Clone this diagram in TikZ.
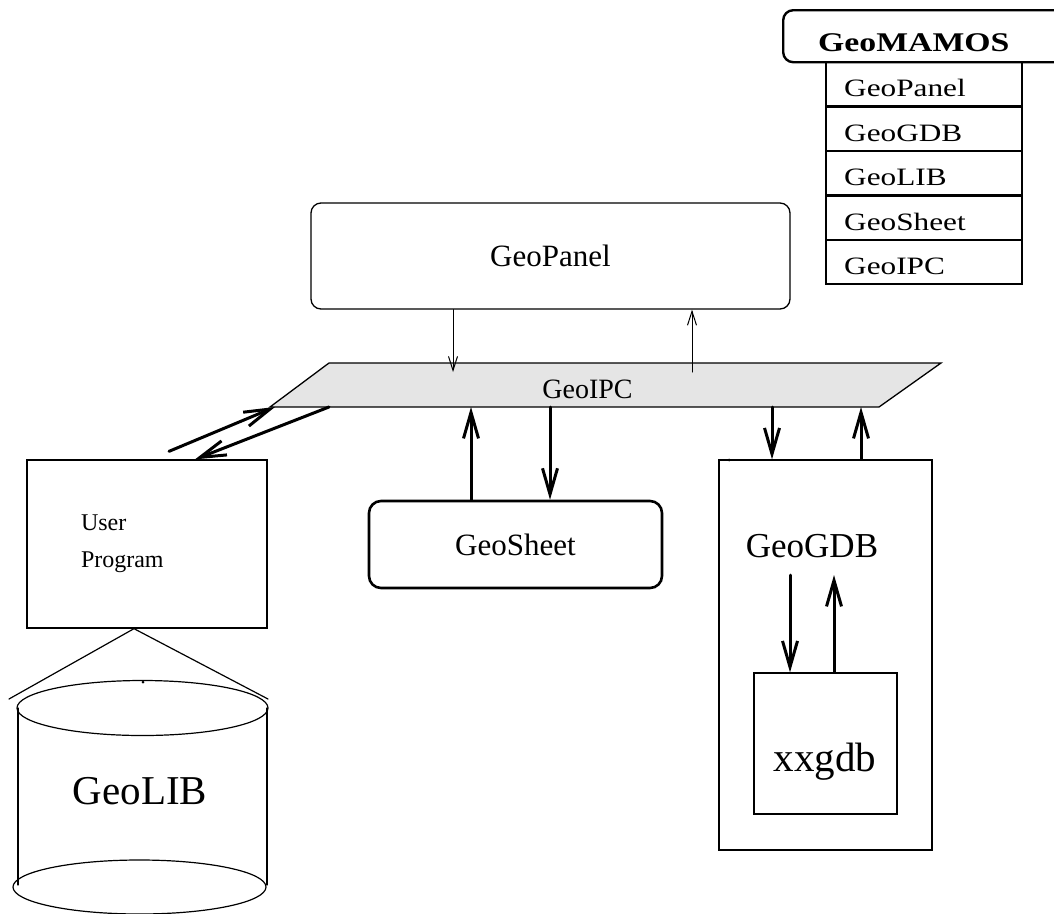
\documentclass[tikz,border=0pt]{standalone}
\usepackage{fontspec}
\setmainfont{Liberation Serif}
\newfontfamily\tabfont[FakeStretch=1.25]{Liberation Serif}
\usepackage{tikz}
\usetikzlibrary{calc}
\usetikzlibrary{arrows.meta}
\definecolor{ebebeb}{rgb}{0.898,0.898,0.898}
\tikzset{box/.style={draw,line width=1.3pt,inner sep=0pt}}
\tikzset{tabrow/.style={draw,line width=2.4pt,minimum width=196pt,minimum height=44.4pt,text width=160pt,inner xsep=18pt,inner ysep=0pt,align=left,text height=25pt,text depth=0pt,font=\tabfont\fontsize{25}{28}\selectfont}}
\tikzset{thinarrow/.style={line width=1pt,-{Straight Barb[length=14pt,width=9pt]}}}
\tikzset{thickarrow/.style={line width=3pt,-{Straight Barb[length=26pt,width=15pt]}}}

\begin{document}
\begin{tikzpicture}[line cap=round,x=1pt,y=-1pt]
            \useasboundingbox (0,0) rectangle (1054,913);
            \clip (0,0) rectangle (1054,913);
            \node[box,rounded corners=10pt,minimum width=479pt,minimum height=106pt,font=\fontsize{31}{37}\selectfont] (panel) at (550.5,256) {GeoPanel};
            \coordinate (ipcnw) at (329,363);
            \coordinate (ipcne) at (941,363);
            \coordinate (ipcse) at (879,407);
            \coordinate (ipcsw) at (270,407);
            \draw [line width=1.3pt,fill=ebebeb] (ipcnw) -- (ipcne) -- (ipcse) -- (ipcsw) -- cycle;
            \node[anchor=base,font=\fontsize{28}{34}\selectfont] (ipc) at (587.5,398) {GeoIPC};
            \node[box,minimum width=240pt,minimum height=168pt,text width=132pt,inner xsep=54pt,align=left,font=\fontsize{24}{37}\selectfont] (user) at (147,544) {User\\Program};
            \node[box,line width=2.6pt,rounded corners=12pt,minimum width=293pt,minimum height=87pt,font=\fontsize{31}{37}\selectfont] (sheet) at (515.5,544.5) {GeoSheet};
            \node[box,minimum width=213pt,minimum height=390pt] (gdb) at (825.5,655) {};
            \node[anchor=base,font=\fontsize{35}{40}\selectfont] (gdblabel) at (812,557) {GeoGDB};
            \node[box,minimum width=143pt,minimum height=141pt] (xxbox) at (825.5,743.5) {};
            \node[anchor=base,font=\fontsize{41}{46}\selectfont] (xxlabel) at (825,771) {xxgdb};
            \coordinate (gdbmid) at (0,575);
            \fill (729,460) circle (1.5pt);
            % the library cylinder under the user program
            \draw [line width=1.2pt] (9,699) -- ($(user.south)+(-13,0)$) -- (268,699);
            \draw [line width=1.2pt] (142.5,708) ellipse [x radius=125.5, y radius=27.5];
            \draw [line width=1.2pt] (139.5,887) ellipse [x radius=126.5, y radius=27];
            \draw [line width=1.2pt] (18,708) -- (18,885);
            \draw [line width=1.2pt] (267,708) -- (267,885);
            \fill (143,682) circle (1.5pt);
            \node[anchor=base,font=\fontsize{41}{46}\selectfont] (lib) at (140,804) {GeoLIB};
            % module table
            \node[draw,line width=2.4pt,rounded corners=10pt,anchor=north west,text width=253pt,inner xsep=35pt,minimum height=52pt,text height=30pt,text depth=0pt,align=left,font=\tabfont\bfseries\fontsize{27}{30}\selectfont] (mamos) at (782,9) {GeoMAMOS};
            \foreach \name [count=\i from 0] in {GeoPanel,GeoGDB,GeoLIB,GeoSheet,GeoIPC}
              \node[tabrow,anchor=north west] (row\i) at (825,61+44.4*\i) {\name};
            % connections
            \draw [thinarrow] (453,0 |- panel.south) -- ($(453,0 |- ipcnw)+(0,9)$);
            \draw [thinarrow] ($(692,0 |- ipcnw)+(0,9)$) -- (692,0 |- panel.south);
            \draw [thickarrow] ($(user.north)+(22,-8)$) -- ($(ipcsw)+(5,0)$);
            \draw [thickarrow] ($(ipcsw)+(59,0)$) -- ($(user.north)+(48,0)$);
            \draw [thickarrow] (471,0 |- sheet.north) -- (471,0 |- ipcsw);
            \draw [thickarrow] (550,0 |- ipcsw) -- (550,0 |- sheet.north);
            \draw [thickarrow] (772,0 |- ipcsw) -- (772,0 |- gdb.north);
            \draw [thickarrow] (861,0 |- gdb.north) -- (861,0 |- ipcsw);
            \draw [thickarrow] (790,0 |- gdbmid) -- (790,0 |- xxbox.north);
            \draw [thickarrow] (834,0 |- xxbox.north) -- (834,0 |- gdbmid);
            \end{tikzpicture}
\end{document}
